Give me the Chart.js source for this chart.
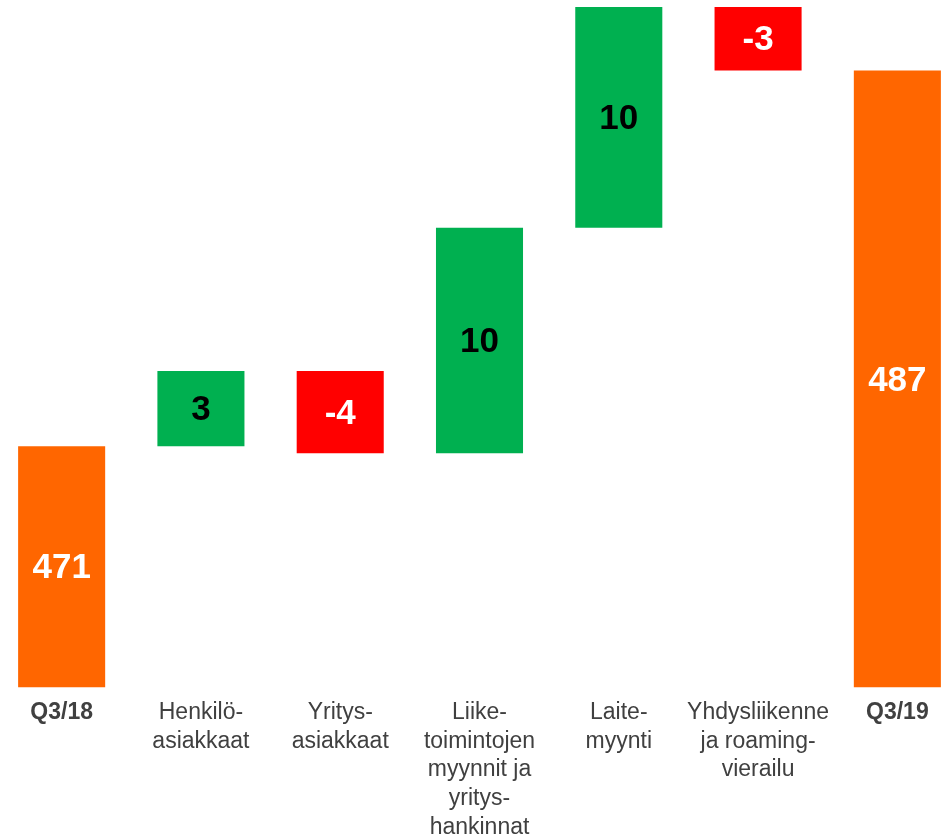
<!DOCTYPE html>
<html lang="fi">
<head>
  <meta charset="UTF-8">
  <title>Liikevaihdon muutos Q3/18 - Q3/19</title>
  <script src="https://cdn.jsdelivr.net/npm/chart.js"></script>
  <style>
    html, body {
      margin: 0;
      padding: 0;
      background: #fff;
      overflow: hidden;
    }
    .chart-box {
      position: absolute;
      left: -8px;
      top: 0;
      width: 975px;
      height: 845px;
    }
  </style>
</head>
<body>
  <div class="chart-box">
    <canvas id="waterfall"></canvas>
  </div>

  <script>
    // Data
    const categories = [
      ['Q3/18'],
      ['Henkilö-', 'asiakkaat'],
      ['Yritys-', 'asiakkaat'],
      ['Liike-', 'toimintojen', 'myynnit ja', 'yritys-', 'hankinnat'],
      ['Laite-', 'myynti'],
      ['Yhdysliikenne', 'ja roaming-', 'vierailu'],
      ['Q3/19']
    ];
    const startValue = 471;
    const changes = [3.2, -3.5, 9.6, 9.4, -2.7];
    const endValue = 487;
    const valueLabels = ['471', '3', '-4', '10', '10', '-3', '487'];

    const ORANGE = '#FF6600';
    const GREEN = '#00B050';
    const RED = '#FF0000';

    // floating bars [from, to]
    const bars = [[0, startValue]];
    let level = startValue;
    changes.forEach(c => {
      bars.push([level, level + c]);
      level += c;
    });
    bars.push([0, endValue]);

    const barColors = bars.map((b, i) => {
      if (i === 0 || i === bars.length - 1) return ORANGE;
      return b[1] >= b[0] ? GREEN : RED;
    });
    const textColors = barColors.map(c => c === GREEN ? '#000000' : '#FFFFFF');

    // labels inside the bars
    const barLabels = {
      id: 'barLabels',
      afterDatasetsDraw(chart) {
        const c = chart.ctx;
        const meta = chart.getDatasetMeta(0);
        c.save();
        c.font = 'bold 35px "Liberation Sans", Arial, sans-serif';
        c.textAlign = 'center';
        c.textBaseline = 'middle';
        meta.data.forEach((el, i) => {
          const top = Math.max(Math.min(el.y, el.base), chart.chartArea.top);
          const bottom = Math.min(Math.max(el.y, el.base), chart.chartArea.bottom);
          c.fillStyle = textColors[i];
          c.fillText(valueLabels[i], el.x, (top + bottom) / 2 + 2);
        });
        c.restore();
      }
    };

    new Chart(document.getElementById('waterfall'), {
      type: 'bar',
      data: {
        labels: categories,
        datasets: [{
          data: bars,
          backgroundColor: barColors,
          borderWidth: 0,
          barPercentage: 0.625,
          categoryPercentage: 1.0
        }]
      },
      options: {
        responsive: true,
        maintainAspectRatio: false,
        animation: false,
        layout: { padding: 0 },
        plugins: {
          legend: { display: false },
          tooltip: { enabled: false },
          title: { display: false }
        },
        scales: {
          x: {
            grid: { display: false },
            border: { display: false },
            ticks: {
              autoSkip: false,
              maxRotation: 0,
              minRotation: 0,
              padding: 3,
              color: '#404040',
              font: (ctx) => ({
                family: '"Liberation Sans", Arial, sans-serif',
                size: 23,
                lineHeight: 1.25,
                weight: (ctx.index === 0 || ctx.index === categories.length - 1) ? 'bold' : 'normal'
              })
            }
          },
          y: {
            display: false,
            min: 460.74,
            max: 490
          }
        }
      },
      plugins: [barLabels]
    });
  </script>
</body>
</html>
